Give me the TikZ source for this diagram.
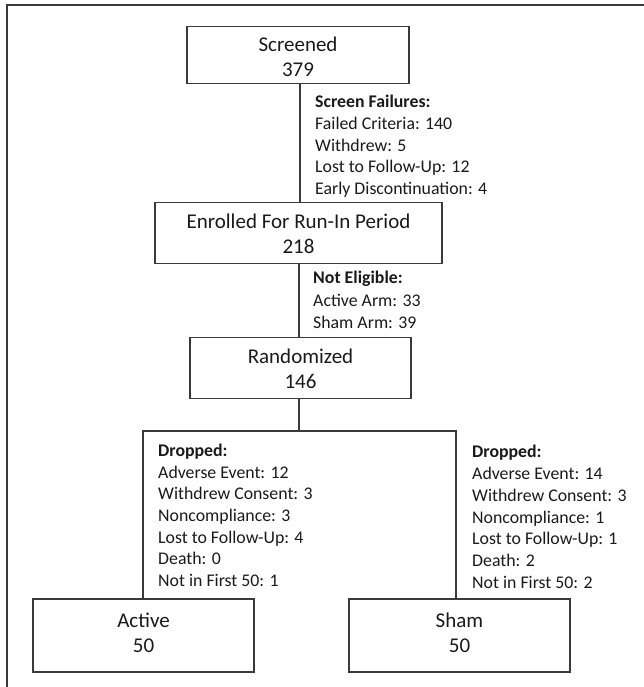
\documentclass[tikz,border=0pt]{standalone}
\usepackage{fontspec}
\setmainfont{Carlito}
\definecolor{linegray}{HTML}{3A3A3A}
\definecolor{textblack}{HTML}{1A1A1A}
\begin{document}
\begin{tikzpicture}[x=1pt,y=-1pt,
  box/.style={draw=linegray, line width=1.4pt, align=center, inner sep=0pt,
    font=\fontsize{21}{25}\selectfont, text=textblack, text depth=0pt},
  side/.style={anchor=base west, align=left, inner sep=0pt,
    font=\fontsize{17.8}{21.7}\selectfont, text=textblack},
  conn/.style={draw=linegray, line width=1.4pt},
  frame/.style={draw=linegray, line width=1.6pt}]
\useasboundingbox (0,0) rectangle (644,687);
% outer frame (top and left edges)
\coordinate (ftr) at (644,5);
\coordinate (ftl) at (7,5);
\coordinate (fbl) at (7,687);
\draw[frame] (ftr) -- (ftl) -- (fbl);
% boxes
\node[box, minimum width=222pt, minimum height=57pt, text height=44pt] (scr) at (298,55) {Screened\\379};
\node[box, minimum width=287pt, minimum height=61pt, text height=40pt] (enr) at (298.5,233) {Enrolled For Run-In Period\\218};
\node[box, minimum width=221pt, minimum height=61pt, text height=40pt] (rand) at (300.5,368) {Randomized\\146};
\node[box, minimum width=221pt, minimum height=73pt, text height=33pt] (act) at (143.5,635.5) {Active\\50};
\node[box, minimum width=221pt, minimum height=73pt, text height=33pt] (sham) at (459.5,635.5) {Sham\\50};
% side texts (anchored at the baseline of their last line)
\node[side] (sf) at (315,194.5) {\textbf{Screen Failures:}\\Failed Criteria: 140\\Withdrew: 5\\Lost to Follow-Up: 12\\Early Discontinuation: 4};
\node[side, font=\fontsize{17.8}{22.5}\selectfont] (ne) at (313,328.5) {\textbf{Not Eligible:}\\Active Arm: 33\\Sham Arm: 39};
\node[side] (dl) at (158,586.5) {\textbf{Dropped:}\\Adverse Event: 12\\Withdrew Consent: 3\\Noncompliance: 3\\Lost to Follow-Up: 4\\Death: 0\\Not in First 50: 1};
\node[side, font=\fontsize{17.8}{21.8}\selectfont] (dr) at (472,588.5) {\textbf{Dropped:}\\Adverse Event: 14\\Withdrew Consent: 3\\Noncompliance: 1\\Lost to Follow-Up: 1\\Death: 2\\Not in First 50: 2};
% connectors
\coordinate (sx) at (300,0);
\draw[conn] (scr.south -| sx) -- (enr.north -| sx);
\coordinate (ex) at (299,0);
\draw[conn] (enr.south -| ex) -- (rand.north -| ex);
\coordinate (bl) at (143,431);
\coordinate (br) at (456,431);
\draw[conn] (rand.south -| ex) -- (bl -| ex);
\draw[conn] (act.north -| bl) -- (bl) -- (br) -- (sham.north -| br);
\end{tikzpicture}
\end{document}
